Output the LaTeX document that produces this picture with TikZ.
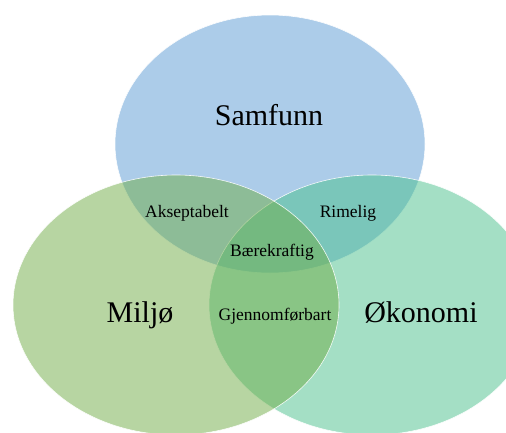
\documentclass[tikz,border=0pt]{standalone}
\usepackage{fontspec}
\setmainfont{Liberation Serif}
\definecolor{samfunnblue}{RGB}{91,155,213}
\definecolor{miljogreen}{RGB}{112,173,71}
\definecolor{okonomigreen}{RGB}{74,193,141}
\tikzset{
  set/.style={fill opacity=0.5, draw=white, draw opacity=0.9, line width=0.6pt},
  biglabel/.style={anchor=base, font=\fontsize{30}{36}\selectfont},
  smalllabel/.style={anchor=base, font=\fontsize{17.5}{21}\selectfont}
}
\begin{document}
\begin{tikzpicture}[x=1pt, y=-1pt]
	\clip (0, 0) rectangle (506, 432);
	\fill[white] (0, 0) rectangle (506, 432);

	% the three sets
	\filldraw[set, fill=samfunnblue] (270, 144) ellipse (155 and 129);
	\filldraw[set, fill=okonomigreen] (372, 305) ellipse (163 and 130);
	\filldraw[set, fill=miljogreen] (176, 305) ellipse (163 and 130);

	\node[biglabel] (samfunn) at (269, 125) {Samfunn};
	\node[biglabel] (miljo) at (140, 322) {Miljø};
	\node[biglabel] (okonomi) at (421, 322) {Økonomi};

	% overlaps
	\node[smalllabel] (akseptabelt) at (187, 217) {Akseptabelt};
	\node[smalllabel] (rimelig) at (348, 217) {Rimelig};
	\node[smalllabel] (baerekraftig) at (272, 256) {Bærekraftig};
	\node[smalllabel] (gjennomforbart) at (275, 320) {Gjennomførbart};
\end{tikzpicture}
\end{document}
